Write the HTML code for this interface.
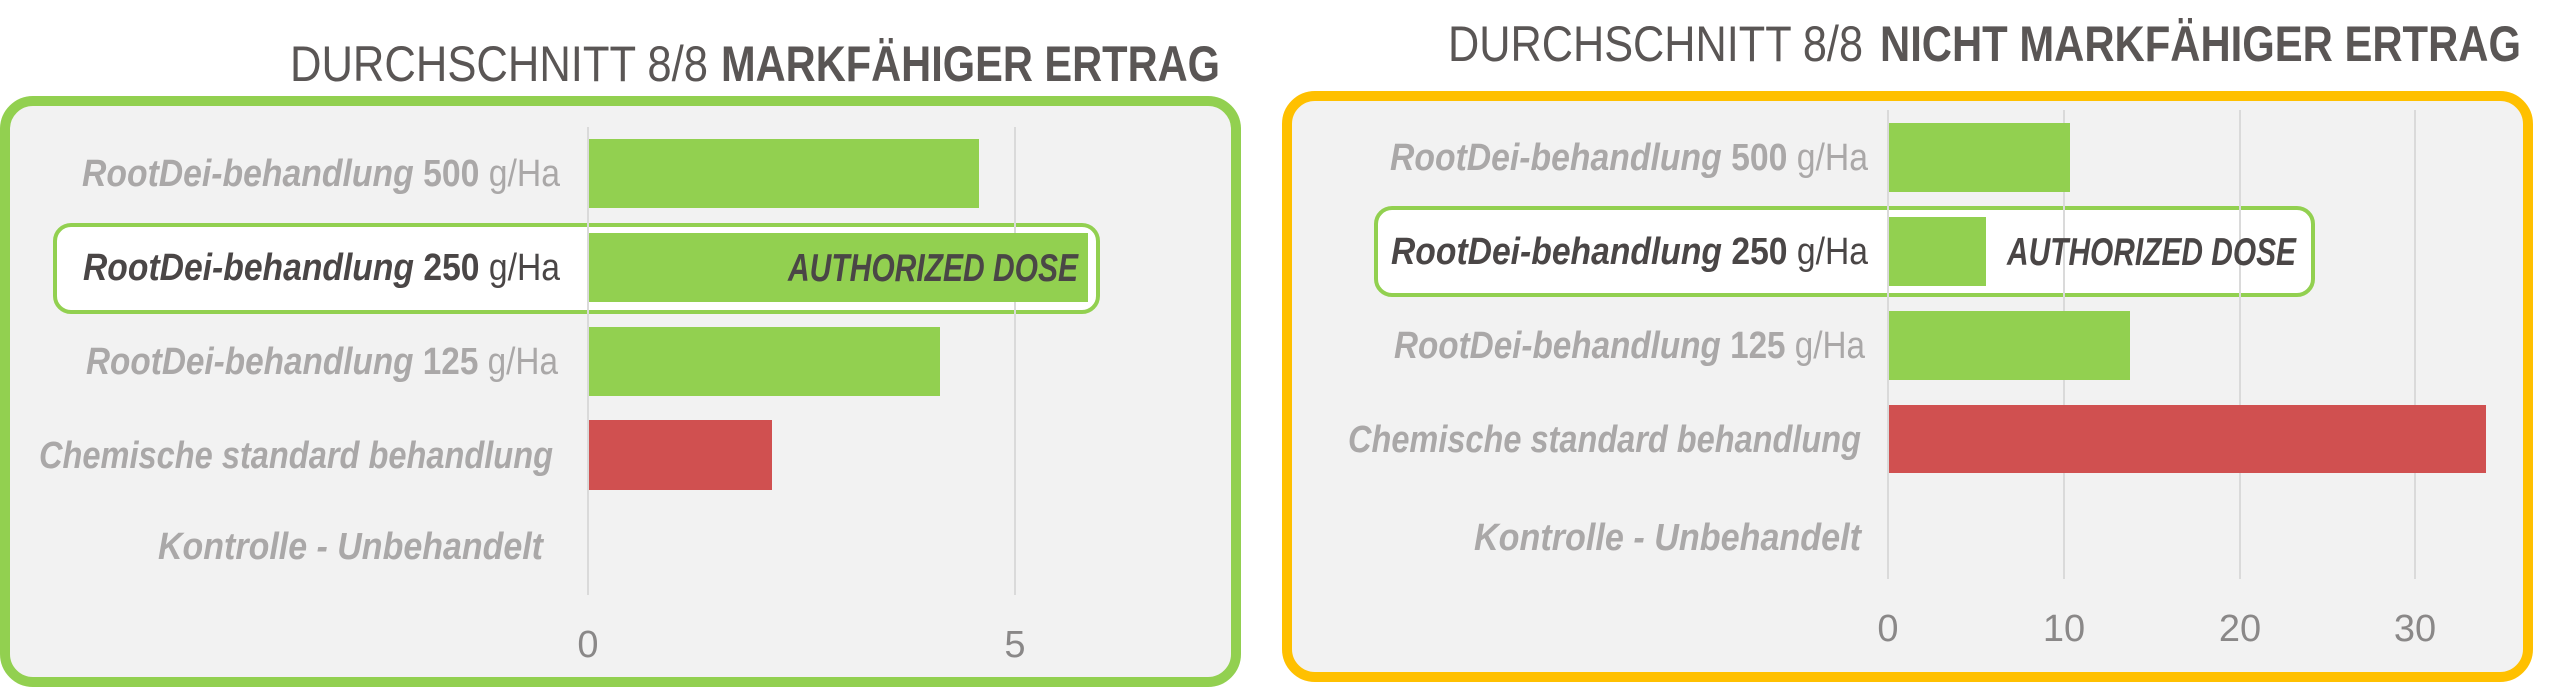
<!DOCTYPE html>
<html><head><meta charset="utf-8"><style>html,body{margin:0;padding:0;background:#fff}svg{display:block}</style></head>
<body>
<svg width="2560" height="688" viewBox="0 0 2560 688" xmlns="http://www.w3.org/2000/svg" font-family="'Liberation Sans Narrow','Liberation Sans',sans-serif">
<!-- LEFT PANEL -->
<text x="290" y="81" font-size="50" fill="#5a5655" textLength="418" lengthAdjust="spacingAndGlyphs">DURCHSCHNITT 8/8</text>
<text x="721" y="81" font-size="50" font-weight="bold" fill="#5a5655" textLength="499" lengthAdjust="spacingAndGlyphs">MARKFÄHIGER ERTRAG</text>
<rect x="5" y="101" width="1231" height="581" rx="28" fill="#f2f2f2" stroke="#92d050" stroke-width="10"/>
<rect x="55" y="225" width="1043" height="87" rx="16" fill="#fff" stroke="#92d050" stroke-width="4"/>
<line x1="588" y1="127" x2="588" y2="595" stroke="#dadada" stroke-width="2"/>
<line x1="1015" y1="127" x2="1015" y2="595" stroke="#dadada" stroke-width="2"/>
<rect x="589" y="139" width="390" height="69" fill="#92d050"/>
<rect x="589" y="233" width="499" height="69" fill="#92d050"/>
<rect x="589" y="327" width="351" height="69" fill="#92d050"/>
<rect x="589" y="420" width="183" height="70" fill="#d05050"/>
<text x="788" y="281" font-size="39" font-weight="bold" font-style="italic" fill="#4a4646" textLength="290" lengthAdjust="spacingAndGlyphs">AUTHORIZED DOSE</text>
<g font-size="38" fill="#aaa8a8">
<text x="82" y="186" textLength="478" lengthAdjust="spacingAndGlyphs"><tspan font-weight="bold" font-style="italic">RootDei-behandlung</tspan> <tspan font-weight="bold">500</tspan> g/Ha</text>
<text x="83" y="280" textLength="477" lengthAdjust="spacingAndGlyphs" fill="#4a4646"><tspan font-weight="bold" font-style="italic">RootDei-behandlung</tspan> <tspan font-weight="bold">250</tspan> g/Ha</text>
<text x="86" y="374" textLength="472" lengthAdjust="spacingAndGlyphs"><tspan font-weight="bold" font-style="italic">RootDei-behandlung</tspan> <tspan font-weight="bold">125</tspan> g/Ha</text>
<text x="39" y="468" textLength="514" lengthAdjust="spacingAndGlyphs" font-weight="bold" font-style="italic">Chemische standard behandlung</text>
<text x="158" y="559" textLength="385" lengthAdjust="spacingAndGlyphs" font-weight="bold" font-style="italic">Kontrolle  - Unbehandelt</text>
</g>
<g font-size="38" fill="#8a8888" text-anchor="middle">
<text x="588" y="657">0</text>
<text x="1015" y="657">5</text>
</g>
<!-- RIGHT PANEL -->
<text x="1448" y="61" font-size="50" fill="#5a5655" textLength="415" lengthAdjust="spacingAndGlyphs">DURCHSCHNITT 8/8</text>
<text x="1880" y="61" font-size="50" font-weight="bold" fill="#5a5655" textLength="641" lengthAdjust="spacingAndGlyphs">NICHT MARKFÄHIGER ERTRAG</text>
<rect x="1287" y="96" width="1241" height="581" rx="28" fill="#f2f2f2" stroke="#ffc000" stroke-width="10"/>
<rect x="1376" y="208" width="937" height="87" rx="16" fill="#fff" stroke="#92d050" stroke-width="4"/>
<line x1="1888" y1="110" x2="1888" y2="579" stroke="#dadada" stroke-width="2"/>
<line x1="2064" y1="110" x2="2064" y2="579" stroke="#dadada" stroke-width="2"/>
<line x1="2240" y1="110" x2="2240" y2="579" stroke="#dadada" stroke-width="2"/>
<line x1="2415" y1="110" x2="2415" y2="579" stroke="#dadada" stroke-width="2"/>
<rect x="1889" y="123" width="181" height="69" fill="#92d050"/>
<rect x="1889" y="217" width="97" height="69" fill="#92d050"/>
<rect x="1889" y="311" width="241" height="69" fill="#92d050"/>
<rect x="1889" y="405" width="597" height="68" fill="#d05050"/>
<text x="2007" y="265" font-size="39" font-weight="bold" font-style="italic" fill="#4a4646" textLength="289" lengthAdjust="spacingAndGlyphs">AUTHORIZED DOSE</text>
<g font-size="38" fill="#aaa8a8">
<text x="1390" y="170" textLength="478" lengthAdjust="spacingAndGlyphs"><tspan font-weight="bold" font-style="italic">RootDei-behandlung</tspan> <tspan font-weight="bold">500</tspan> g/Ha</text>
<text x="1391" y="264" textLength="477" lengthAdjust="spacingAndGlyphs" fill="#4a4646"><tspan font-weight="bold" font-style="italic">RootDei-behandlung</tspan> <tspan font-weight="bold">250</tspan> g/Ha</text>
<text x="1394" y="358" textLength="471" lengthAdjust="spacingAndGlyphs"><tspan font-weight="bold" font-style="italic">RootDei-behandlung</tspan> <tspan font-weight="bold">125</tspan> g/Ha</text>
<text x="1348" y="452" textLength="513" lengthAdjust="spacingAndGlyphs" font-weight="bold" font-style="italic">Chemische standard behandlung</text>
<text x="1474" y="550" textLength="387" lengthAdjust="spacingAndGlyphs" font-weight="bold" font-style="italic">Kontrolle  - Unbehandelt</text>
</g>
<g font-size="38" fill="#8a8888" text-anchor="middle">
<text x="1888" y="641">0</text>
<text x="2064" y="641">10</text>
<text x="2240" y="641">20</text>
<text x="2415" y="641">30</text>
</g>
</svg>
</body></html>
